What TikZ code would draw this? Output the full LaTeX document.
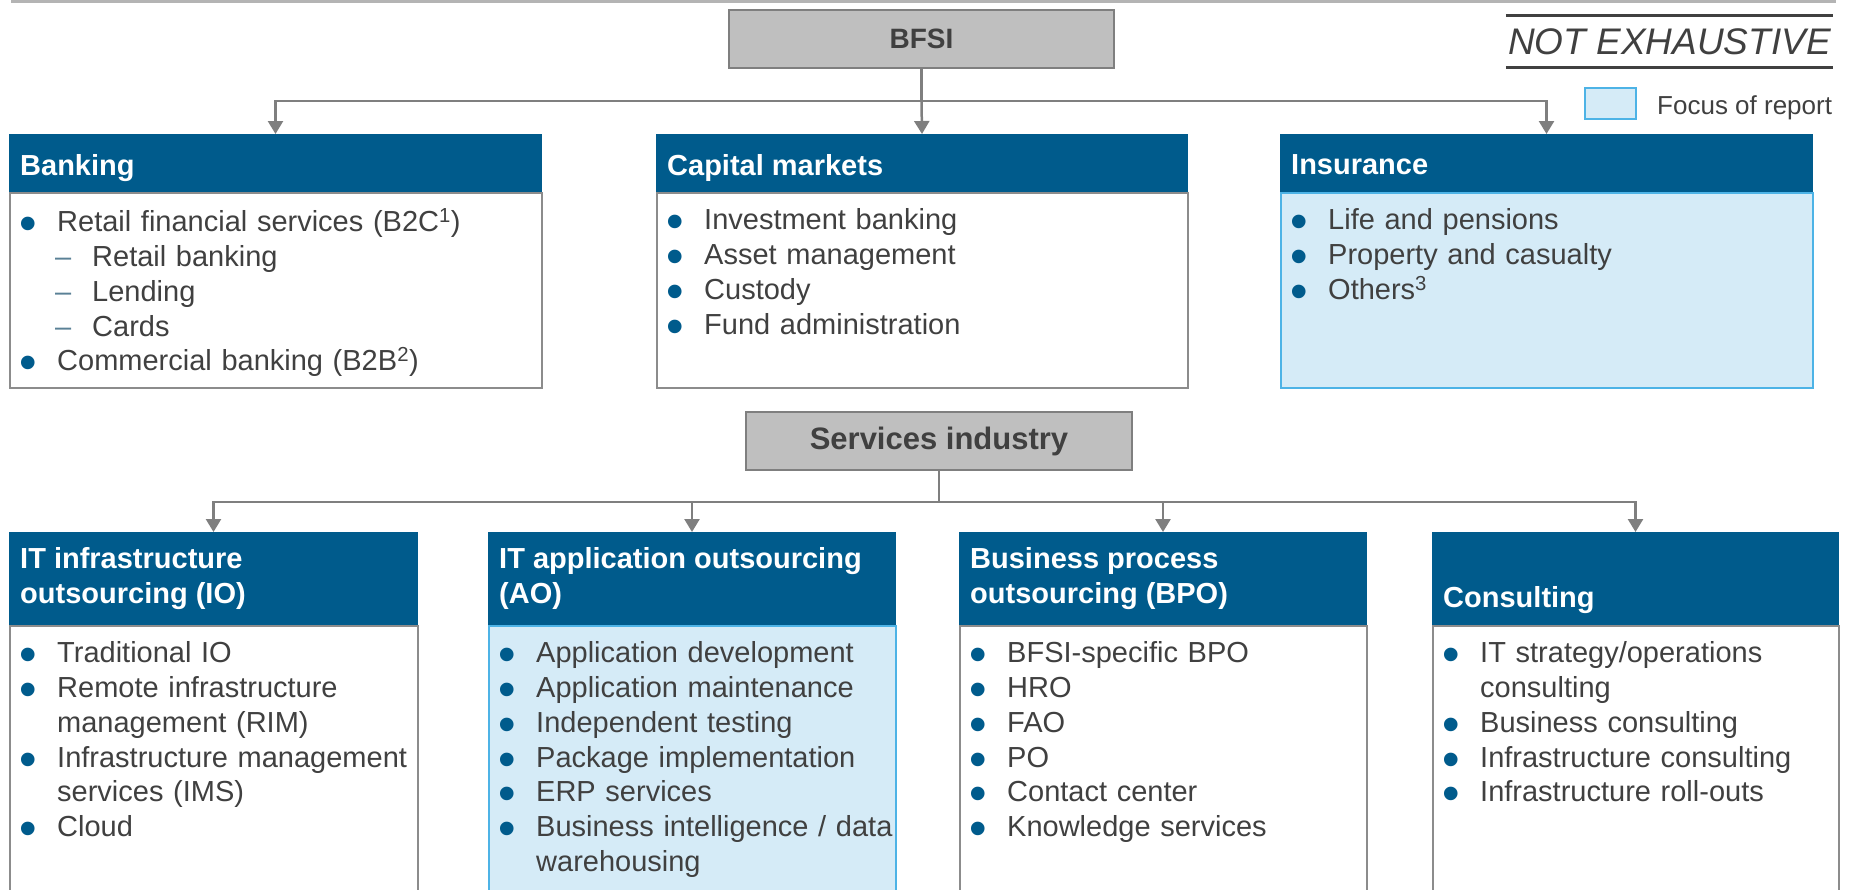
\documentclass[tikz,border=0pt]{standalone}
\usepackage{fontspec}
\setmainfont{Liberation Sans}
\usetikzlibrary{arrows.meta}

\definecolor{hdblue}{HTML}{005B8C}
\definecolor{focusfill}{HTML}{D5EBF7}
\definecolor{focusline}{HTML}{4DB3E6}
\definecolor{boxgray}{HTML}{8C8C8C}
\definecolor{conngray}{HTML}{7F7F7F}
\definecolor{topfill}{HTML}{BFBFBF}
\definecolor{txtgray}{HTML}{404040}
\definecolor{dashblue}{HTML}{5A8196}
\definecolor{rulegray}{HTML}{B4B4B4}

\newcommand{\bdot}{\textcolor{hdblue}{\fontsize{50}{0}\selectfont\raisebox{-9pt}{\textbullet}}}
\newcommand{\itm}[1]{\noindent\hangindent=38pt\hangafter=1\makebox[38pt][l]{\bdot}#1\par}
\newcommand{\sitm}[1]{\noindent\hspace{36pt}\makebox[37pt][l]{\textcolor{dashblue}{\textendash}}#1\par}

\begin{document}
\begin{tikzpicture}[x = 1pt, y = -1pt,
    grayhead/.style = {rectangle, draw = conngray, fill = topfill, line width = 2.5pt, text = txtgray,
                       font = \bfseries\fontsize{28}{34}\selectfont, inner sep = 0pt},
    body/.style = {rectangle, draw = boxgray, fill = white, line width = 2pt, anchor = north west, inner sep = 0pt},
    focus/.style = {body, draw = focusline, fill = focusfill},
    head/.style = {rectangle, fill = hdblue, draw = hdblue, line width = 1pt, anchor = south west, inner sep = 0pt},
    title/.style = {anchor = north west, inner sep = 0pt, text = white, align = left,
                    font = \bfseries\fontsize{29}{34.5}\selectfont},
    list/.style = {anchor = north west, inner sep = 0pt, text = txtgray, align = left,
                   font = \fontsize{29}{34.8}\selectfont},
    conn/.style = {draw = conngray, line width = 2.5pt},
    arr/.style = {conn, -{Triangle[width = 15pt, length = 13pt]}}]

      \useasboundingbox (0, 0) rectangle (1849, 889);
      \clip (0, 0) rectangle (1849, 889);
      \draw [rulegray, line width = 3.5pt] (11, 1.5) -- (1836, 1.5);

      % top level
      \node [grayhead, minimum width = 385pt, minimum height = 58pt] (bfsi) at (921.5, 39){BFSI};

      \node [font = \itshape\fontsize{37}{40}\selectfont, text = txtgray, minimum width = 327pt,
             minimum height = 51pt, inner sep = 0pt] (noex) at (1669.5, 41.5){NOT EXHAUSTIVE};
      \draw [txtgray, line width = 3pt] (noex.north west) -- (noex.north east);
      \draw [txtgray, line width = 3pt] (noex.south west) -- (noex.south east);

      \node [focus, anchor = center, minimum width = 51pt, minimum height = 31pt] (legend) at (1610.5, 103.5){};
      \node [anchor = west, inner sep = 0pt, text = txtgray, font = \fontsize{26}{30}\selectfont]
            (legendtxt) at ([shift = {(20, 4)}]legend.east){Focus of report};

      % BFSI segments
      \node [body, minimum width = 532pt, minimum height = 195pt] (bodybank) at (9, 192){};
      \node [head, minimum width = 532pt, minimum height = 57pt] (hdrbank) at (bodybank.north west){};
      \node [body, minimum width = 531pt, minimum height = 195pt] (bodycap) at (656, 192){};
      \node [head, minimum width = 531pt, minimum height = 57pt] (hdrcap) at (bodycap.north west){};
      \node [focus, minimum width = 532pt, minimum height = 195pt] (bodyins) at (1280, 192){};
      \node [head, minimum width = 532pt, minimum height = 57pt] (hdrins) at (bodyins.north west){};

      \node [title] (ttlbank) at ([shift = {(11, 20.5)}]hdrbank.north west){Banking};
      \node [title] (ttlcap) at ([shift = {(11, 20.5)}]hdrcap.north west){Capital markets};
      \node [title] (ttlins) at ([shift = {(11, 20.5)}]hdrins.north west){Insurance};

      \node [list, text width = 520pt] (lstbank) at ([shift = {(10, 16.5)}]bodybank.north west){%
        \itm{Retail financial services (B2C\textsuperscript{1})}%
        \sitm{Retail banking}\sitm{Lending}\sitm{Cards}%
        \itm{Commercial banking (B2B\textsuperscript{2})}};
      \node [list, text width = 520pt] (lstcap) at ([shift = {(10, 16.5)}]bodycap.north west){%
        \itm{Investment banking}\itm{Asset management}\itm{Custody}\itm{Fund administration}};
      \node [list, text width = 520pt] (lstins) at ([shift = {(10, 16.5)}]bodyins.north west){%
        \itm{Life and pensions}\itm{Property and casualty}\itm{Others\textsuperscript{3}}};

      \coordinate (bfsibus) at (921.5, 101);
      \draw [conn] (bfsi.south) -- (bfsibus);
      \draw [arr] (bfsibus) -| (hdrbank.north);
      \draw [arr] (bfsibus) -- (hdrcap.north);
      \draw [arr] (bfsibus) -| (hdrins.north);

      % services level
      \node [grayhead, font = \bfseries\fontsize{31}{34}\selectfont, minimum width = 386pt,
             minimum height = 58pt] (serv) at (939, 441){Services industry};

      \node [body, minimum width = 408pt, minimum height = 280pt] (bodyio) at (9, 625){};
      \node [head, minimum width = 408pt, minimum height = 92pt] (hdrio) at (bodyio.north west){};
      \node [focus, minimum width = 407pt, minimum height = 280pt] (bodyao) at (488, 625){};
      \node [head, minimum width = 407pt, minimum height = 92pt] (hdrao) at (bodyao.north west){};
      \node [body, minimum width = 407pt, minimum height = 280pt] (bodybpo) at (959, 625){};
      \node [head, minimum width = 407pt, minimum height = 92pt] (hdrbpo) at (bodybpo.north west){};
      \node [body, minimum width = 406pt, minimum height = 280pt] (bodycon) at (1432, 625){};
      \node [head, minimum width = 406pt, minimum height = 92pt] (hdrcon) at (bodycon.north west){};

      \node [title] (ttlio) at ([shift = {(11, 15.5)}]hdrio.north west){IT infrastructure\\outsourcing (IO)};
      \node [title] (ttlao) at ([shift = {(11, 15.5)}]hdrao.north west){IT application outsourcing\\(AO)};
      \node [title] (ttlbpo) at ([shift = {(11, 15.5)}]hdrbpo.north west){Business process\\outsourcing (BPO)};
      \node [title] (ttlcon) at ([shift = {(11, 54)}]hdrcon.north west){Consulting};

      \node [list, text width = 400pt] (lstio) at ([shift = {(10, 16.5)}]bodyio.north west){%
        \itm{Traditional IO}%
        \itm{Remote infrastructure\newline management (RIM)}%
        \itm{Infrastructure management\newline services (IMS)}%
        \itm{Cloud}};
      \node [list, text width = 400pt] (lstao) at ([shift = {(10, 16.5)}]bodyao.north west){%
        \itm{Application development}\itm{Application maintenance}%
        \itm{Independent testing}\itm{Package implementation}\itm{ERP services}%
        \itm{Business intelligence / data\newline warehousing}};
      \node [list, text width = 400pt] (lstbpo) at ([shift = {(10, 16.5)}]bodybpo.north west){%
        \itm{BFSI-specific BPO}\itm{HRO}\itm{FAO}\itm{PO}%
        \itm{Contact center}\itm{Knowledge services}};
      \node [list, text width = 400pt] (lstcon) at ([shift = {(10, 16.5)}]bodycon.north west){%
        \itm{IT strategy/operations\newline consulting}\itm{Business consulting}%
        \itm{Infrastructure consulting}\itm{Infrastructure roll-outs}};

      \coordinate (servbus) at (939, 502);
      \draw [conn] (serv.south) -- (servbus);
      \draw [arr] (servbus) -| (hdrio.north);
      \draw [arr] (servbus) -| (hdrao.north);
      \draw [arr] (servbus) -| (hdrbpo.north);
      \draw [arr] (servbus) -| (hdrcon.north);

      \end{tikzpicture}
\end{document}
